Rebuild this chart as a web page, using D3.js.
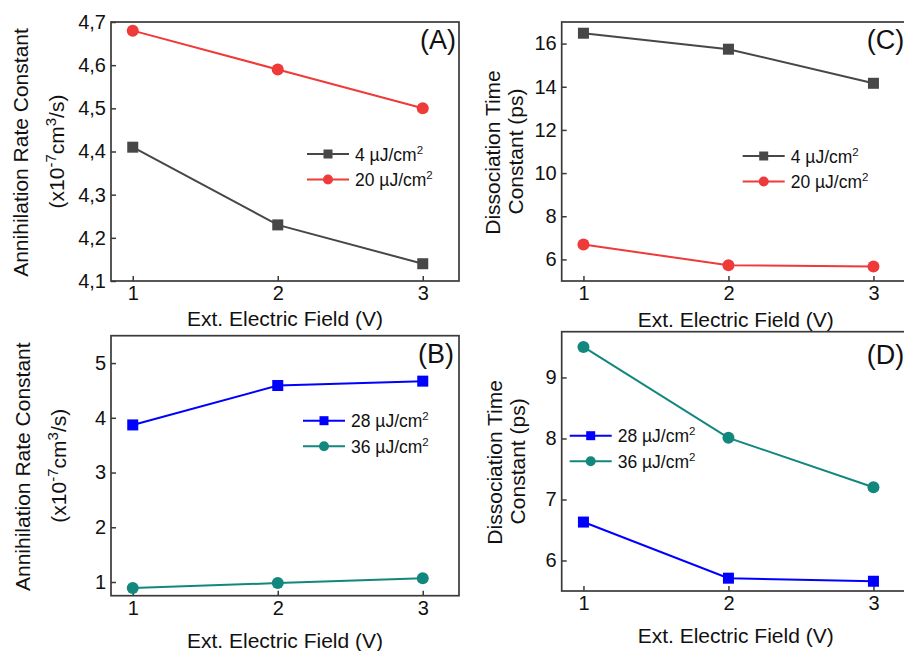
<!DOCTYPE html>
<html>
<head>
<meta charset="utf-8">
<script src="https://cdn.jsdelivr.net/npm/d3@7"></script>
<style>
  body { margin: 0; background: #fff; }
  svg { display: block; font-family: Arial, "Liberation Sans", sans-serif; }
</style>
</head>
<body>
<svg id="chart" width="904" height="651"></svg>
<script>
// applied field, shared by all four panels
const fieldV = [1, 2, 3];

// (A) annihilation rate, low fluence
const rate4uJ = [4.41, 4.23, 4.14];
const rate20uJ = [4.68, 4.59, 4.50];
// (B) annihilation rate, high fluence
const rate28uJ = [3.87, 4.59, 4.67];
const rate36uJ = [0.89, 0.98, 1.07];
// (C) dissociation time, low fluence
const time4uJ = [16.48, 15.74, 14.16];
const time20uJ = [6.69, 5.73, 5.67];
// (D) dissociation time, high fluence
const time28uJ = [6.63, 5.71, 5.66];
const time36uJ = [9.50, 8.01, 7.20];

const ticksA = [4.1, 4.2, 4.3, 4.4, 4.5, 4.6, 4.7];
const ticksB = [1, 2, 3, 4, 5];
const ticksC = [6, 8, 10, 12, 14, 16];
const ticksD = [6, 7, 8, 9];
const xTicks = [1, 2, 3];

const colDark = '#474747';
const colRed = '#ef3a3a';
const colBlue = '#0000ff';
const colTeal = '#12877d';

const svg = d3.select('#chart');
const boxW = 348;

const panels = [
    {
        tag: '(A)', left: 111, top: 22, h: 259, yDom: [4.1, 4.7], ticks: ticksA, comma: true,
        title: ['Annihilation Rate Constant', 'rate'], tx: [28, 64],
        series: [
            { name: '4', vals: rate4uJ, color: colDark, shape: 'square' },
            { name: '20', vals: rate20uJ, color: colRed, shape: 'circle' }
        ],
        leg: { x: 196, y: 132 }, lab: { x: 309, y: 18 }, xt: 326
    },
    {
        tag: '(C)', left: 561.7, top: 22, h: 259, yDom: [5, 17], ticks: ticksC,
        title: ['Dissociation Time', 'Constant (ps)'], tx: [500, 523],
        series: [
            { name: '4', vals: time4uJ, color: colDark, shape: 'square' },
            { name: '20', vals: time20uJ, color: colRed, shape: 'circle' }
        ],
        leg: { x: 181, y: 134 }, lab: { x: 305, y: 18 }, xt: 327
    },
    {
        tag: '(B)', left: 111, top: 335.7, h: 260, yDom: [0.75, 5.5], ticks: ticksB,
        title: ['Annihilation Rate Constant', 'rate'], tx: [30, 66],
        series: [
            { name: '28', vals: rate28uJ, color: colBlue, shape: 'square' },
            { name: '36', vals: rate36uJ, color: colTeal, shape: 'circle' }
        ],
        leg: { x: 192, y: 85 }, lab: { x: 307, y: 18 }, xt: 648
    },
    {
        tag: '(D)', left: 561.7, top: 331.7, h: 259.3, yDom: [5.5, 9.75], ticks: ticksD,
        title: ['Dissociation Time', 'Constant (ps)'], tx: [502, 525],
        series: [
            { name: '28', vals: time28uJ, color: colBlue, shape: 'square' },
            { name: '36', vals: time36uJ, color: colTeal, shape: 'circle' }
        ],
        leg: { x: 8, y: 104 }, lab: { x: 305, y: 23 }, xt: 643
    }
];

function drawMarker(g, shape, color, cx, cy, size) {
    if (shape === 'square') {
        g.append('rect')
            .attr('x', cx - size / 2).attr('y', cy - size / 2)
            .attr('width', size).attr('height', size)
            .attr('fill', color);
    } else {
        g.append('circle')
            .attr('cx', cx).attr('cy', cy).attr('r', size / 2 + 0.5)
            .attr('fill', color);
    }
}

panels.forEach((p) => {
    const g = svg.append('g').attr('transform', `translate(${p.left},${p.top})`);
    const x = d3.scaleLinear().domain([0.85, 3.25]).range([0, boxW]);
    const y = d3.scaleLinear().domain(p.yDom).range([p.h, 0]);

    const fmt = p.comma ? (d) => d3.format('.1f')(d).replace('.', ',') : d3.format('d');

    const xAxis = g.append('g')
        .attr('transform', `translate(0,${p.h})`)
        .call(d3.axisBottom(x).tickValues(xTicks).tickSizeInner(-5).tickSizeOuter(0).tickPadding(5).tickFormat(d3.format('d')));
    const yAxis = g.append('g')
        .call(d3.axisLeft(y).tickValues(p.ticks).tickSizeInner(-5).tickSizeOuter(0).tickPadding(5).tickFormat(fmt));

    [xAxis, yAxis].forEach((a) => {
        a.select('.domain').remove();
        a.selectAll('line').attr('stroke', '#3a3a3a').attr('stroke-width', 1.5);
        a.selectAll('text').attr('font-size', 20).attr('fill', '#111')
            .attr('font-family', 'Arial, "Liberation Sans", sans-serif');
    });

    // frame
    g.append('rect')
        .attr('width', boxW).attr('height', p.h)
        .attr('fill', 'none').attr('stroke', '#3a3a3a').attr('stroke-width', 1.7);

    // series
    const line = d3.line().x((d, i) => x(fieldV[i])).y((d) => y(d));
    p.series.forEach((s) => {
        g.append('path')
            .datum(s.vals)
            .attr('d', line)
            .attr('fill', 'none')
            .attr('stroke', s.color)
            .attr('stroke-width', 2);
        s.vals.forEach((v, i) => drawMarker(g, s.shape, s.color, x(fieldV[i]), y(v), 11));
    });

    // legend
    p.series.forEach((s, i) => {
        const ly = p.leg.y + i * 25.5;
        g.append('line')
            .attr('x1', p.leg.x).attr('x2', p.leg.x + 42)
            .attr('y1', ly).attr('y2', ly)
            .attr('stroke', s.color).attr('stroke-width', 2);
        drawMarker(g, s.shape, s.color, p.leg.x + 21, ly, 9);
        const t = g.append('text')
            .attr('x', p.leg.x + 48).attr('y', ly + 6.5)
            .attr('font-size', 17.5).attr('fill', '#111');
        t.append('tspan').text(s.name + ' \u00b5J/cm');
        t.append('tspan').attr('dy', -7).attr('font-size', 11.5).text('2');
    });

    // panel tag
    g.append('text')
        .attr('x', p.lab.x).attr('y', p.lab.y)
        .attr('dy', '0.35em')
        .attr('font-size', 27).attr('fill', '#111')
        .text(p.tag);

    // x title
    svg.append('text')
        .attr('x', p.left + boxW / 2).attr('y', p.xt)
        .attr('text-anchor', 'middle')
        .attr('font-size', 21).attr('fill', '#111')
        .text('Ext. Electric Field (V)');

    // y title (two lines, rotated)
    const cy = p.top + p.h / 2 + 1;
    svg.append('text')
        .attr('transform', `translate(${p.tx[0]},${cy}) rotate(-90)`)
        .attr('text-anchor', 'middle')
        .attr('font-size', 21).attr('fill', '#111')
        .text(p.title[0]);
    const t2 = svg.append('text')
        .attr('transform', `translate(${p.tx[1]},${cy - 1}) rotate(-90)`)
        .attr('text-anchor', 'middle')
        .attr('font-size', 21).attr('fill', '#111');
    if (p.title[1] === 'rate') {
        t2.append('tspan').text('(x10');
        t2.append('tspan').attr('dy', -8).attr('font-size', 15).text('-7');
        t2.append('tspan').attr('dy', 8).text('cm');
        t2.append('tspan').attr('dy', -8).attr('font-size', 15).text('3');
        t2.append('tspan').attr('dy', 8).text('/s)');
    } else {
        t2.text(p.title[1]);
    }
});
</script>
</body>
</html>
